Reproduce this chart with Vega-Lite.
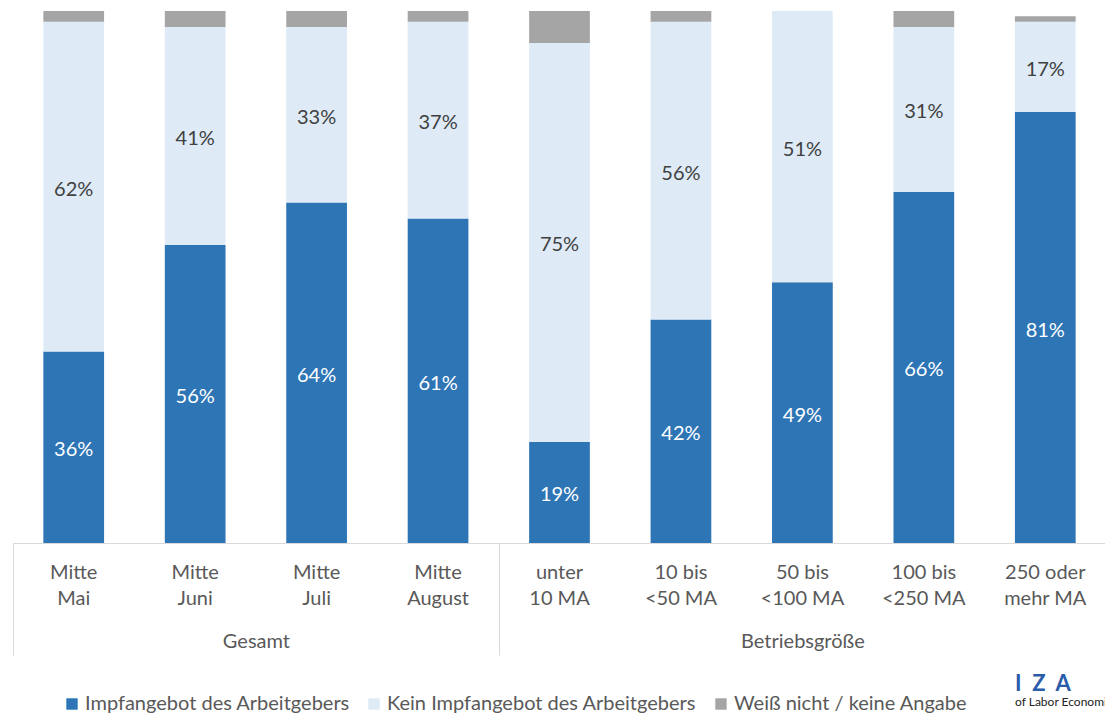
{
  "$schema": "https://vega.github.io/schema/vega-lite/v6.json",
  "width": 1093,
  "height": 532,
  "padding": {"left": 12, "top": 11, "right": 0, "bottom": 0},
  "background": "white",
  "config": {
    "view": {"stroke": null},
    "font": "Lato",
    "text": {"font": "Lato"}
  },
  "title": {
    "text": "I\u00a0\u00a0Z\u00a0\u00a0A",
    "subtitle": "of Labor Economics",
    "orient": "bottom",
    "anchor": "start",
    "align": "left",
    "frame": "group",
    "dx": 1002,
    "offset": -40,
    "font": "Lato",
    "fontSize": 22,
    "fontWeight": "bold",
    "color": "#2a5caa",
    "subtitleFont": "Lato",
    "subtitleFontSize": 12,
    "subtitleColor": "#222222",
    "subtitlePadding": 1
  },
  "layer": [
    {
      "data": {
        "values": [
          {"label": "Mitte|Mai", "category": "Impfangebot des Arbeitgebers", "k": 1, "value": 0.36},
          {"label": "Mitte|Mai", "category": "Kein Impfangebot des Arbeitgebers", "k": 2, "value": 0.62},
          {"label": "Mitte|Mai", "category": "Weiß nicht / keine Angabe", "k": 3, "value": 0.02},
          {"label": "Mitte|Juni", "category": "Impfangebot des Arbeitgebers", "k": 1, "value": 0.56},
          {"label": "Mitte|Juni", "category": "Kein Impfangebot des Arbeitgebers", "k": 2, "value": 0.41},
          {"label": "Mitte|Juni", "category": "Weiß nicht / keine Angabe", "k": 3, "value": 0.03},
          {"label": "Mitte|Juli", "category": "Impfangebot des Arbeitgebers", "k": 1, "value": 0.64},
          {"label": "Mitte|Juli", "category": "Kein Impfangebot des Arbeitgebers", "k": 2, "value": 0.33},
          {"label": "Mitte|Juli", "category": "Weiß nicht / keine Angabe", "k": 3, "value": 0.03},
          {"label": "Mitte|August", "category": "Impfangebot des Arbeitgebers", "k": 1, "value": 0.61},
          {"label": "Mitte|August", "category": "Kein Impfangebot des Arbeitgebers", "k": 2, "value": 0.37},
          {"label": "Mitte|August", "category": "Weiß nicht / keine Angabe", "k": 3, "value": 0.02},
          {"label": "unter|10 MA", "category": "Impfangebot des Arbeitgebers", "k": 1, "value": 0.19},
          {"label": "unter|10 MA", "category": "Kein Impfangebot des Arbeitgebers", "k": 2, "value": 0.75},
          {"label": "unter|10 MA", "category": "Weiß nicht / keine Angabe", "k": 3, "value": 0.06},
          {"label": "10 bis|<50 MA", "category": "Impfangebot des Arbeitgebers", "k": 1, "value": 0.42},
          {"label": "10 bis|<50 MA", "category": "Kein Impfangebot des Arbeitgebers", "k": 2, "value": 0.56},
          {"label": "10 bis|<50 MA", "category": "Weiß nicht / keine Angabe", "k": 3, "value": 0.02},
          {"label": "50 bis|<100 MA", "category": "Impfangebot des Arbeitgebers", "k": 1, "value": 0.49},
          {"label": "50 bis|<100 MA", "category": "Kein Impfangebot des Arbeitgebers", "k": 2, "value": 0.51},
          {"label": "50 bis|<100 MA", "category": "Weiß nicht / keine Angabe", "k": 3, "value": 0.0},
          {"label": "100 bis|<250 MA", "category": "Impfangebot des Arbeitgebers", "k": 1, "value": 0.66},
          {"label": "100 bis|<250 MA", "category": "Kein Impfangebot des Arbeitgebers", "k": 2, "value": 0.31},
          {"label": "100 bis|<250 MA", "category": "Weiß nicht / keine Angabe", "k": 3, "value": 0.03},
          {"label": "250 oder|mehr MA", "category": "Impfangebot des Arbeitgebers", "k": 1, "value": 0.81},
          {"label": "250 oder|mehr MA", "category": "Kein Impfangebot des Arbeitgebers", "k": 2, "value": 0.17},
          {"label": "250 oder|mehr MA", "category": "Weiß nicht / keine Angabe", "k": 3, "value": 0.01}
        ]
      },
      "encoding": {
        "x": {
          "field": "label",
          "type": "nominal",
          "sort": null,
          "scale": {"paddingInner": 0.5, "paddingOuter": 0.25},
          "axis": {
            "orient": "bottom",
            "title": null,
            "domain": true,
            "domainColor": "#d9d9d9",
            "domainWidth": 1,
            "ticks": false,
            "grid": false,
            "labelAngle": 0,
            "labelExpr": "split(datum.label, '|')",
            "labelFont": "Lato",
            "labelFontSize": 20,
            "labelColor": "#595959",
            "labelLineHeight": 26,
            "labelPadding": 19,
            "labelOverlap": false
          }
        }
      },
      "layer": [
        {
          "mark": {"type": "bar"},
          "encoding": {
            "y": {
              "field": "value",
              "type": "quantitative",
              "stack": "zero",
              "scale": {"domain": [0, 1]},
              "axis": null
            },
            "color": {
              "field": "category",
              "type": "nominal",
              "scale": {
                "domain": ["Impfangebot des Arbeitgebers", "Kein Impfangebot des Arbeitgebers", "Weiß nicht / keine Angabe"],
                "range": ["#2e75b6", "#deebf7", "#a5a5a5"]
              },
              "legend": {
                "title": null,
                "orient": "none",
                "direction": "horizontal",
                "legendX": 49,
                "legendY": 683,
                "symbolType": "square",
                "symbolSize": 130,
                "symbolStrokeWidth": 0,
                "labelFont": "Lato",
                "labelFontSize": 20,
                "labelColor": "#595959",
                "labelOffset": 3,
                "columnPadding": 14,
                "labelLimit": 400
              }
            },
            "order": {"field": "k", "type": "quantitative"}
          }
        },
        {
          "transform": [{"filter": "datum.k < 3"}],
          "mark": {"type": "text", "font": "Lato", "fontSize": 20, "baseline": "middle", "align": "center", "dy": 3},
          "encoding": {
            "y": {
              "field": "value",
              "type": "quantitative",
              "stack": "zero",
              "bandPosition": 0.5
            },
            "detail": {"field": "category"},
            "order": {"field": "k", "type": "quantitative"},
            "text": {"field": "value", "type": "quantitative", "format": ".0%"},
            "color": {
              "condition": {"test": "datum.k == 1", "value": "#ffffff"},
              "value": "#404040"
            }
          }
        }
      ]
    },
    {
      "data": {
        "values": [
          {"gruppe": "Gesamt", "pos": 2},
          {"gruppe": "Betriebsgröße", "pos": 6.5}
        ]
      },
      "mark": {"type": "point", "opacity": 0},
      "encoding": {
        "x": {
          "field": "pos",
          "type": "quantitative",
          "scale": {"domain": [0, 9], "nice": false, "zero": false},
          "axis": {
            "orient": "bottom",
            "title": null,
            "domain": false,
            "grid": false,
            "values": [0, 2, 4, 6.5, 9],
            "ticks": true,
            "tickSize": 112,
            "tickColor": "#d9d9d9",
            "tickWidth": 1,
            "tickOpacity": {
              "condition": {"test": "datum.value == 2 || datum.value == 6.5", "value": 0},
              "value": 1
            },
            "labelExpr": "datum.value == 2 ? 'Gesamt' : datum.value == 6.5 ? 'Betriebsgröße' : ''",
            "labelFont": "Lato",
            "labelFontSize": 20,
            "labelColor": "#595959",
            "labelPadding": -24,
            "labelFlush": false,
            "labelOverlap": false
          }
        }
      }
    }
  ],
  "resolve": {"scale": {"x": "independent"}, "axis": {"x": "independent"}}
}
